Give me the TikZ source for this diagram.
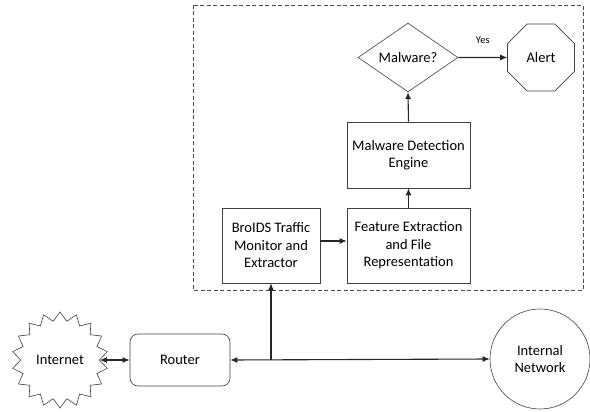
\documentclass[tikz,border=0pt]{standalone}
\usepackage{fontspec}
\setmainfont{Carlito}
\usetikzlibrary{shapes.geometric,arrows.meta}
\begin{document}
\begin{tikzpicture}[x=1pt,y=-1pt,
  font=\fontsize{14.5}{17.5}\selectfont,
  shp/.style={draw=black!75,line width=0.6pt,fill=white,align=center,inner sep=0pt},
  boxnode/.style={shp,minimum width=123pt,minimum height=66pt},
  conn/.style={line width=1.1pt,draw=black!85,-{Latex[length=7pt,width=6pt]}},
  dconn/.style={line width=1.1pt,draw=black!85,{Latex[length=7pt,width=6pt]}-{Latex[length=7pt,width=6pt]}}]
\useasboundingbox (0,0) rectangle (590,412);
\draw[dashed,draw=black!70,line width=0.6pt,dash pattern=on 4pt off 2.5pt] (193,5) rectangle (583,290);
% nodes
\node[shp,star,star points=18,star point ratio=1.22,minimum size=96pt] (inet) at (60,360) {};
\node at (60,360) {Internet};
\node[shp,rounded corners=8pt,minimum width=100pt,minimum height=52pt] (router) at (180,360) {Router};
\node[shp,circle,minimum size=100pt] (net) at (540,359) {Internal\\Network};
\node[shp,minimum width=98pt,minimum height=75pt] (bro) at (271,245.5) {BroIDS Traffic\\Monitor and\\Extractor};
\node[shp,minimum width=123pt,minimum height=75pt] (feat) at (408.5,245.5) {Feature Extraction\\and File\\Representation};
\node[boxnode] (eng) at (408.5,155) {Malware Detection\\Engine};
\node[shp,diamond,minimum width=100pt,minimum height=67pt] (dec) at (408,57.5) {Malware?};
\node[shp,regular polygon,regular polygon sides=8,minimum size=72.5pt] (alert) at (541,57.5) {Alert};
\coordinate (j) at (271,360);
% connectors
\draw[dconn] (inet.east |- router.west) -- (router.west);
\draw[dconn] (router.east) -- (net.west);
\draw[conn] (j) -- (bro.south);
\draw[conn] (bro.east |- 0,241) -- (feat.west |- 0,241);
\draw[conn] (feat.north) -- (eng.south);
\draw[conn] (eng.north) -- (dec.south);
\draw[conn] (dec.east) -- node[above=10pt,font=\fontsize{10.5}{12}\selectfont] (yes) {Yes} (alert.west);
\end{tikzpicture}
\end{document}
